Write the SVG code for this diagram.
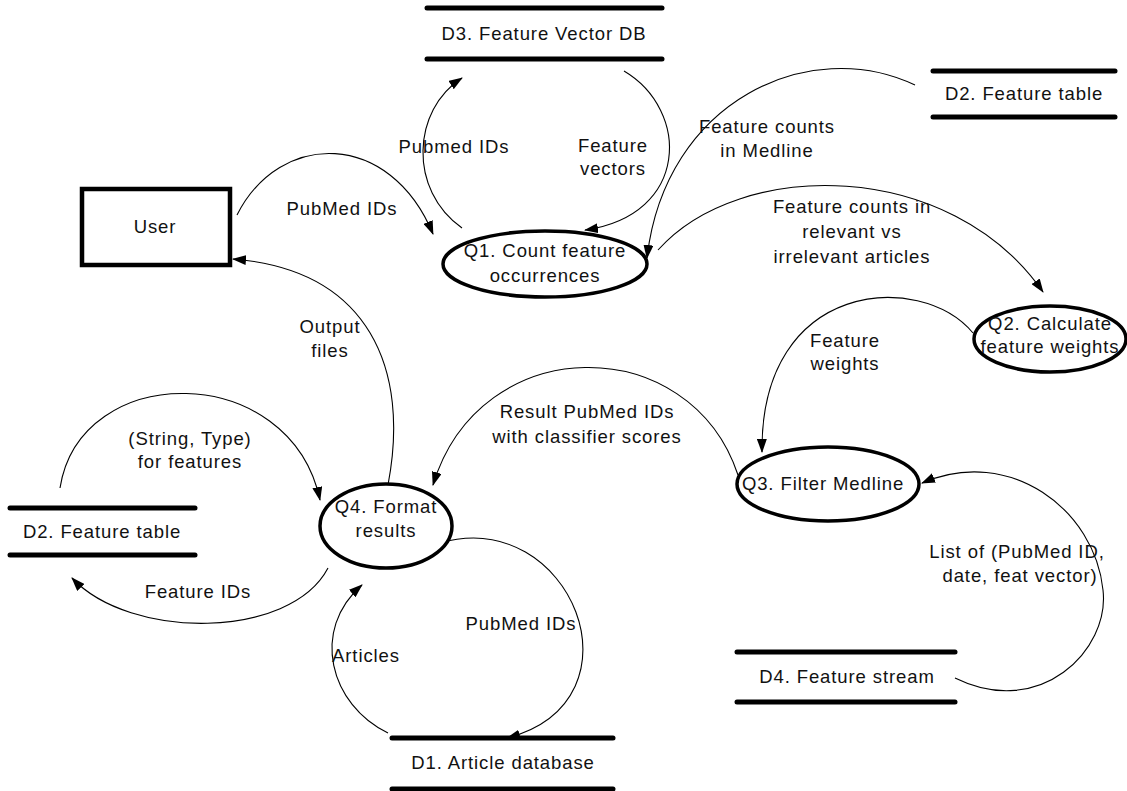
<svg xmlns="http://www.w3.org/2000/svg" width="1127" height="791" viewBox="0 0 1127 791">
<style>
text{font-family:"Liberation Sans",Arial,sans-serif;font-size:18.5px;letter-spacing:0.9px;fill:#111;text-anchor:middle}
.store{stroke:#000;stroke-width:5;stroke-linecap:round}
.proc{fill:#fff;stroke:#000;stroke-width:3.5}
.flow{fill:none;stroke:#000;stroke-width:1.1;marker-end:url(#ah)}
</style>
<defs>
<marker id="ah" viewBox="0 0 14 10" refX="13" refY="5" markerWidth="14" markerHeight="10" markerUnits="userSpaceOnUse" orient="auto">
<path d="M0,0 L14,5 L0,10 Z" fill="#000"/>
</marker>
</defs>
<rect width="1127" height="791" fill="#fff"/>
<g id="connectors">
<path class="flow" d="M237,215 C280,130 390,130 433,234"/>
<path class="flow" d="M462,228 C408,190 412,110 462,78"/>
<path class="flow" d="M624,71 C690,110 690,215 585,230"/>
<path class="flow" d="M915,85 C810,35 665,100 647,258"/>
<path class="flow" d="M658,250 C740,158 950,158 1043,292"/>
<path class="flow" d="M973,333 C920,270 760,280 762,452"/>
<path class="flow" d="M738,475 C690,330 480,330 433,485"/>
<path class="flow" d="M955,678 C1040,720 1110,650 1103,590 C1095,510 1010,445 922,483"/>
<path class="flow" d="M388,485 C410,370 370,270 233,259"/>
<path class="flow" d="M60,488 C80,360 290,360 320,500"/>
<path class="flow" d="M328,568 C290,640 130,640 72,578"/>
<path class="flow" d="M440,543 C570,505 650,700 507,738"/>
<path class="flow" d="M388,733 C330,705 310,630 362,585"/>
<text x="342" y="215">PubMed IDs</text>
<text x="454" y="153">Pubmed IDs</text>
<text x="613" y="152">Feature</text>
<text x="613" y="175">vectors</text>
<text x="767" y="133">Feature counts</text>
<text x="767" y="157">in Medline</text>
<text x="852" y="213">Feature counts in</text>
<text x="852" y="238">relevant vs</text>
<text x="852" y="263">irrelevant articles</text>
<text x="845" y="347">Feature</text>
<text x="845" y="370">weights</text>
<text x="587" y="418">Result PubMed IDs</text>
<text x="587" y="443">with classifier scores</text>
<text x="1017" y="558">List of (PubMed ID,</text>
<text x="1020" y="582">date, feat vector)</text>
<text x="330" y="333">Output</text>
<text x="330" y="357">files</text>
<text x="190" y="445">(String, Type)</text>
<text x="190" y="468">for features</text>
<text x="198" y="598">Feature IDs</text>
<text x="521" y="630">PubMed IDs</text>
<text x="366" y="662">Articles</text>
</g>
<g id="user">
<rect x="82" y="189" width="148" height="76" fill="#fff" stroke="#000" stroke-width="4.5"/>
<text x="155" y="233">User</text>
</g>
<g id="q1">
<ellipse class="proc" cx="545" cy="264" rx="102" ry="33"/>
<text x="545" y="257">Q1. Count feature</text>
<text x="545" y="282">occurrences</text>
</g>
<g id="q2">
<ellipse class="proc" cx="1050" cy="339" rx="76" ry="33"/>
<text x="1050" y="330">Q2. Calculate</text>
<text x="1050" y="353">feature weights</text>
</g>
<g id="q3">
<ellipse class="proc" cx="828" cy="484" rx="91" ry="37"/>
<text x="823" y="490">Q3. Filter Medline</text>
</g>
<g id="q4">
<ellipse class="proc" cx="386" cy="526" rx="66" ry="42"/>
<text x="386" y="513">Q4. Format</text>
<text x="386" y="537">results</text>
</g>
<g id="d3">
<line class="store" x1="427" y1="8" x2="662" y2="8"/>
<line class="store" x1="427" y1="59" x2="662" y2="59"/>
<text x="544" y="40">D3. Feature Vector DB</text>
</g>
<g id="d2top">
<line class="store" x1="933" y1="71" x2="1115" y2="71"/>
<line class="store" x1="933" y1="117" x2="1115" y2="117"/>
<text x="1024" y="100">D2. Feature table</text>
</g>
<g id="d2left">
<line class="store" x1="10" y1="508" x2="195" y2="508"/>
<line class="store" x1="10" y1="555" x2="195" y2="555"/>
<text x="102" y="538">D2. Feature table</text>
</g>
<g id="d4">
<line class="store" x1="737" y1="652" x2="955" y2="652"/>
<line class="store" x1="737" y1="702" x2="955" y2="702"/>
<text x="847" y="683">D4. Feature stream</text>
</g>
<g id="d1">
<line class="store" x1="392" y1="738" x2="613" y2="738"/>
<line class="store" x1="392" y1="789" x2="613" y2="789"/>
<text x="503" y="769">D1. Article database</text>
</g>
</svg>
